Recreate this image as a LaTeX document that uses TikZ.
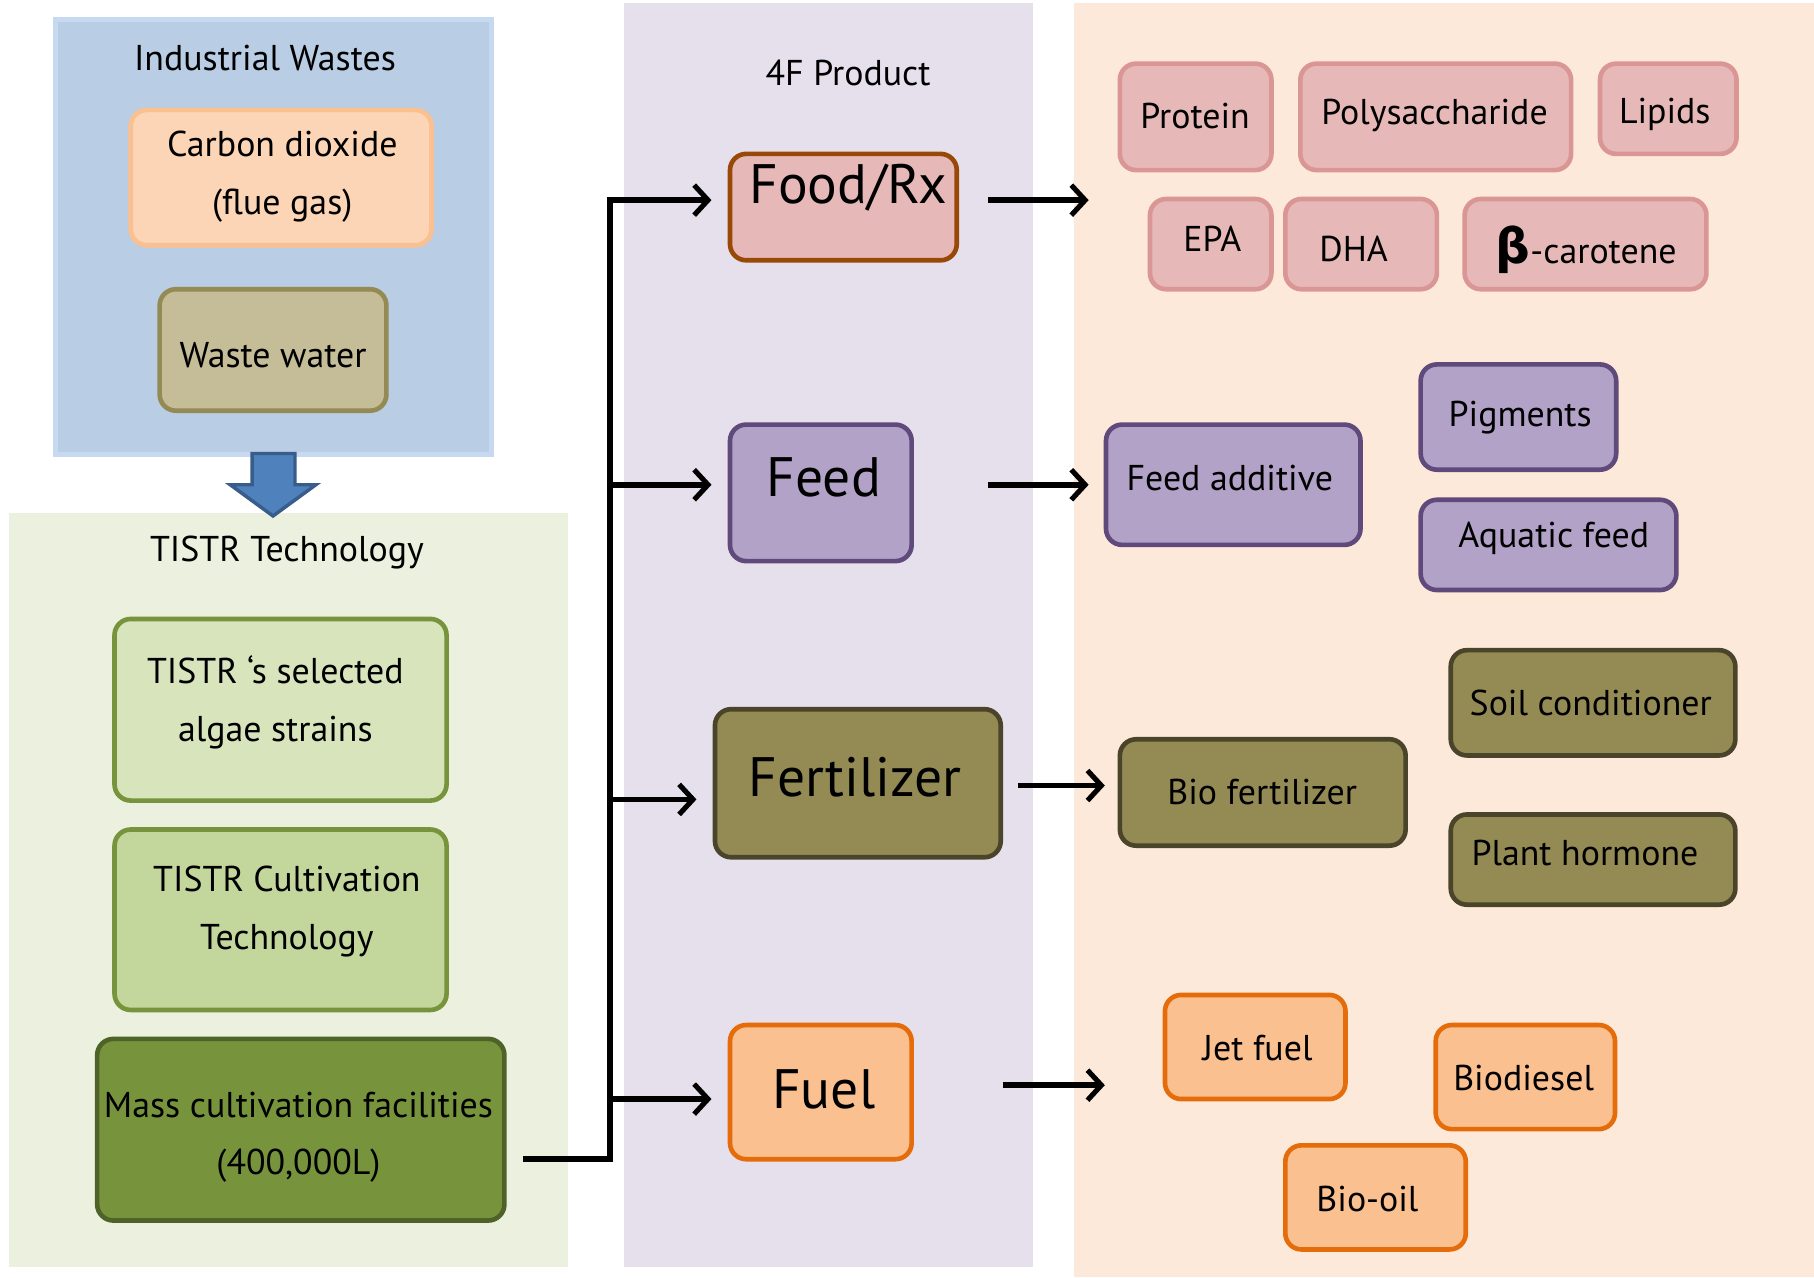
\documentclass[tikz,border=0pt]{standalone}
\usepackage{fontspec}
\setmainfont{PT Sans}
\newfontfamily\greekfont{DejaVu Sans}
\usetikzlibrary{arrows.meta,fit}
\definecolor{pBlue}{HTML}{B9CDE5}
\definecolor{pBlueD}{HTML}{C6D9F1}
\definecolor{pGreen}{HTML}{EBF1DE}
\definecolor{pPurple}{HTML}{E5E0EC}
\definecolor{pPeach}{HTML}{FDE9D9}
\definecolor{coF}{HTML}{FBD5B5}
\definecolor{coD}{HTML}{FAC090}
\definecolor{wwF}{HTML}{C4BD97}
\definecolor{wwD}{HTML}{948A54}
\definecolor{selF}{HTML}{D7E4BC}
\definecolor{culF}{HTML}{C3D69B}
\definecolor{grD}{HTML}{77933C}
\definecolor{massD}{HTML}{4F6228}
\definecolor{foodF}{HTML}{E6B9B8}
\definecolor{foodD}{HTML}{984807}
\definecolor{foodSD}{HTML}{D99694}
\definecolor{feedF}{HTML}{B3A2C7}
\definecolor{feedD}{HTML}{604A7B}
\definecolor{fertF}{HTML}{948A54}
\definecolor{fertD}{HTML}{4A452A}
\definecolor{fuelF}{HTML}{FAC090}
\definecolor{fuelD}{HTML}{E46C0A}
\definecolor{barF}{HTML}{4F81BD}
\definecolor{barD}{HTML}{385D8A}
\newcommand\rbx[6]{\node[#2, fit={(#3,#4)(#5,#6)}] (#1) {};}
\begin{document}
\begin{tikzpicture}[x=0.5pt,y=-0.5pt,
  panel/.style={inner sep=0pt, draw=none},
  rb/.style={rounded corners=7pt, line width=2pt, inner sep=0pt},
  lbl/.style={font=\fontsize{15.5}{25}\selectfont, align=center, inner sep=0pt},
  big/.style={font=\fontsize{24}{28}\selectfont, inner sep=0pt},
  co/.style={rb, fill=coF, draw=coD},
  ww/.style={rb, fill=wwF, draw=wwD},
  sel/.style={rb, fill=selF, draw=grD},
  cul/.style={rb, fill=culF, draw=grD},
  mass/.style={rb, fill=grD, draw=massD},
  foodbig/.style={rb, fill=foodF, draw=foodD},
  foods/.style={rb, fill=foodF, draw=foodSD},
  feed/.style={rb, fill=feedF, draw=feedD},
  fert/.style={rb, fill=fertF, draw=fertD},
  fuel/.style={rb, fill=fuelF, draw=fuelD},
  arr/.style={line width=2.5pt, -{Straight Barb[length=6pt,width=13pt,line width=2.2pt]}},
  trunk/.style={line width=2.5pt},
]
\useasboundingbox (0,0) rectangle (1568,1104);
\fill[white] (0,0) rectangle (1568,1104);
% panels
\rbx{pRight}{panel, fill=pPeach}{928}{3}{1568}{1104}
\rbx{pMid}{panel, fill=pPurple}{539}{3}{893}{1095}
\rbx{pTech}{panel, fill=pGreen}{8}{443}{491}{1095}
\rbx{pWaste}{panel, fill=pBlue, draw=pBlueD, line width=2pt}{48}{17}{425}{393}
% block arrow
\draw[fill=barF, draw=barD, line width=1.5pt] (218,392) -- (255,392) -- (255,419) -- (273,419) -- (236,446) -- (199,419) -- (218,419) -- cycle;
% left boxes
\rbx{co2}{co}{113}{95}{373}{212}
\rbx{waste}{ww}{138}{250}{334}{355}
\rbx{sel}{sel}{99}{535}{386}{692}
\rbx{cult}{cul}{99}{717}{386}{873}
\rbx{mass}{mass}{84}{898}{436}{1055}
% 4F boxes
\rbx{food}{foodbig}{631}{133}{827}{225}
\rbx{feed}{feed}{631}{367}{788}{485}
\rbx{fert}{fert}{618}{613}{865}{741}
\rbx{fuel}{fuel}{631}{886}{788}{1002}
% right boxes
\rbx{protein}{foods}{968}{55}{1099}{147}
\rbx{poly}{foods}{1124}{55}{1358}{147}
\rbx{lipids}{foods}{1383}{55}{1501}{133}
\rbx{epa}{foods}{994}{172}{1099}{250}
\rbx{dha}{foods}{1111}{172}{1242}{250}
\rbx{beta}{foods}{1266}{172}{1475}{250}
\rbx{fadd}{feed}{956}{367}{1176}{471}
\rbx{pigm}{feed}{1228}{315}{1397}{406}
\rbx{aqua}{feed}{1228}{432}{1449}{510}
\rbx{soil}{fert}{1254}{562}{1500}{653}
\rbx{biofert}{fert}{968}{639}{1215}{731}
\rbx{plant}{fert}{1254}{704}{1500}{782}
\rbx{jet}{fuel}{1007}{860}{1163}{950}
\rbx{biod}{fuel}{1241}{886}{1396}{976}
\rbx{biooil}{fuel}{1111}{990}{1267}{1080}
% texts
\node[lbl] (tWaste) at (229,50) {Industrial Wastes};
\node[lbl] (tco2) at (244,153) {Carbon dioxide\\(flue gas)};
\node[lbl] (twaste) at (236,307) {Waste water};
\node[lbl] (tTech) at (248,478) {TISTR Technology};
\node[lbl] (tsel) at (238,607) {TISTR ‘s selected\\algae strains};
\node[lbl] (tcult) at (248,788) {TISTR Cultivation\\Technology};
\node[lbl] (tmass) at (258,983) {Mass cultivation facilities\\(400,000L)};
\node[lbl] (tMid) at (733,63) {4F Product};
\node[big] (tfood) at (733,162) {Food/Rx};
\node[big] (tfeed) at (712,413) {Feed};
\node[big] (tfert) at (739,672) {Fertilizer};
\node[big] (tfuel) at (712,942) {Fuel};
\node[lbl] (tprotein) at (1033,100) {Protein};
\node[lbl] (tpoly) at (1240,100) {Polysaccharide};
\node[lbl] (tlipids) at (1439,99) {Lipids};
\node[lbl] (tepa) at (1048,206) {EPA};
\node[lbl] (tdha) at (1170,215) {DHA};
\node[lbl] (tbeta) at (1371,216) {{\greekfont\bfseries\fontsize{21}{21}\selectfont β}-carotene};
\node[lbl] (tfadd) at (1063,413) {Feed additive};
\node[lbl] (tpigm) at (1314,361) {Pigments};
\node[lbl] (taqua) at (1343,465) {Aquatic feed};
\node[lbl] (tsoil) at (1375,608) {Soil conditioner};
\node[lbl] (tbiofert) at (1091,685) {Bio fertilizer};
\node[lbl] (tplant) at (1370,737) {Plant hormone};
\node[lbl] (tjet) at (1087,906) {Jet fuel};
\node[lbl] (tbiod) at (1317,932) {Biodiesel};
\node[lbl] (tbiooil) at (1182,1036) {Bio-oil};
% connectors
\coordinate (trS) at (452,1002);
\coordinate (trB) at (527,1002);
\coordinate (trT) at (527,173);
\coordinate (trFeed) at (527,419);
\coordinate (trFert) at (527,691);
\coordinate (trFuel) at (527,950);
\draw[trunk] (trS) -- (trB) -- (trT) -- ++(2,0);
\draw[arr, shorten >=7pt] (trT) -- (food.west |- trT);
\draw[arr, shorten >=7pt] (trFeed) -- (feed.west |- trFeed);
\draw[arr, shorten >=7pt] (trFert) -- (fert.west |- trFert);
\draw[arr, shorten >=7pt] (trFuel) -- (fuel.west |- trFuel);
\coordinate (oFood) at (941,173);
\coordinate (oFeed) at (941,419);
\coordinate (oFert) at (955,679);
\coordinate (oFuel) at (955,938);
\draw[arr, shorten <=12.5pt] (food.east |- oFood) -- (oFood);
\draw[arr, shorten <=32pt] (feed.east |- oFeed) -- (oFeed);
\draw[arr, shorten <=6.5pt] (fert.east |- oFert) -- (oFert);
\draw[arr, shorten <=38.5pt] (fuel.east |- oFuel) -- (oFuel);
\end{tikzpicture}
\end{document}
